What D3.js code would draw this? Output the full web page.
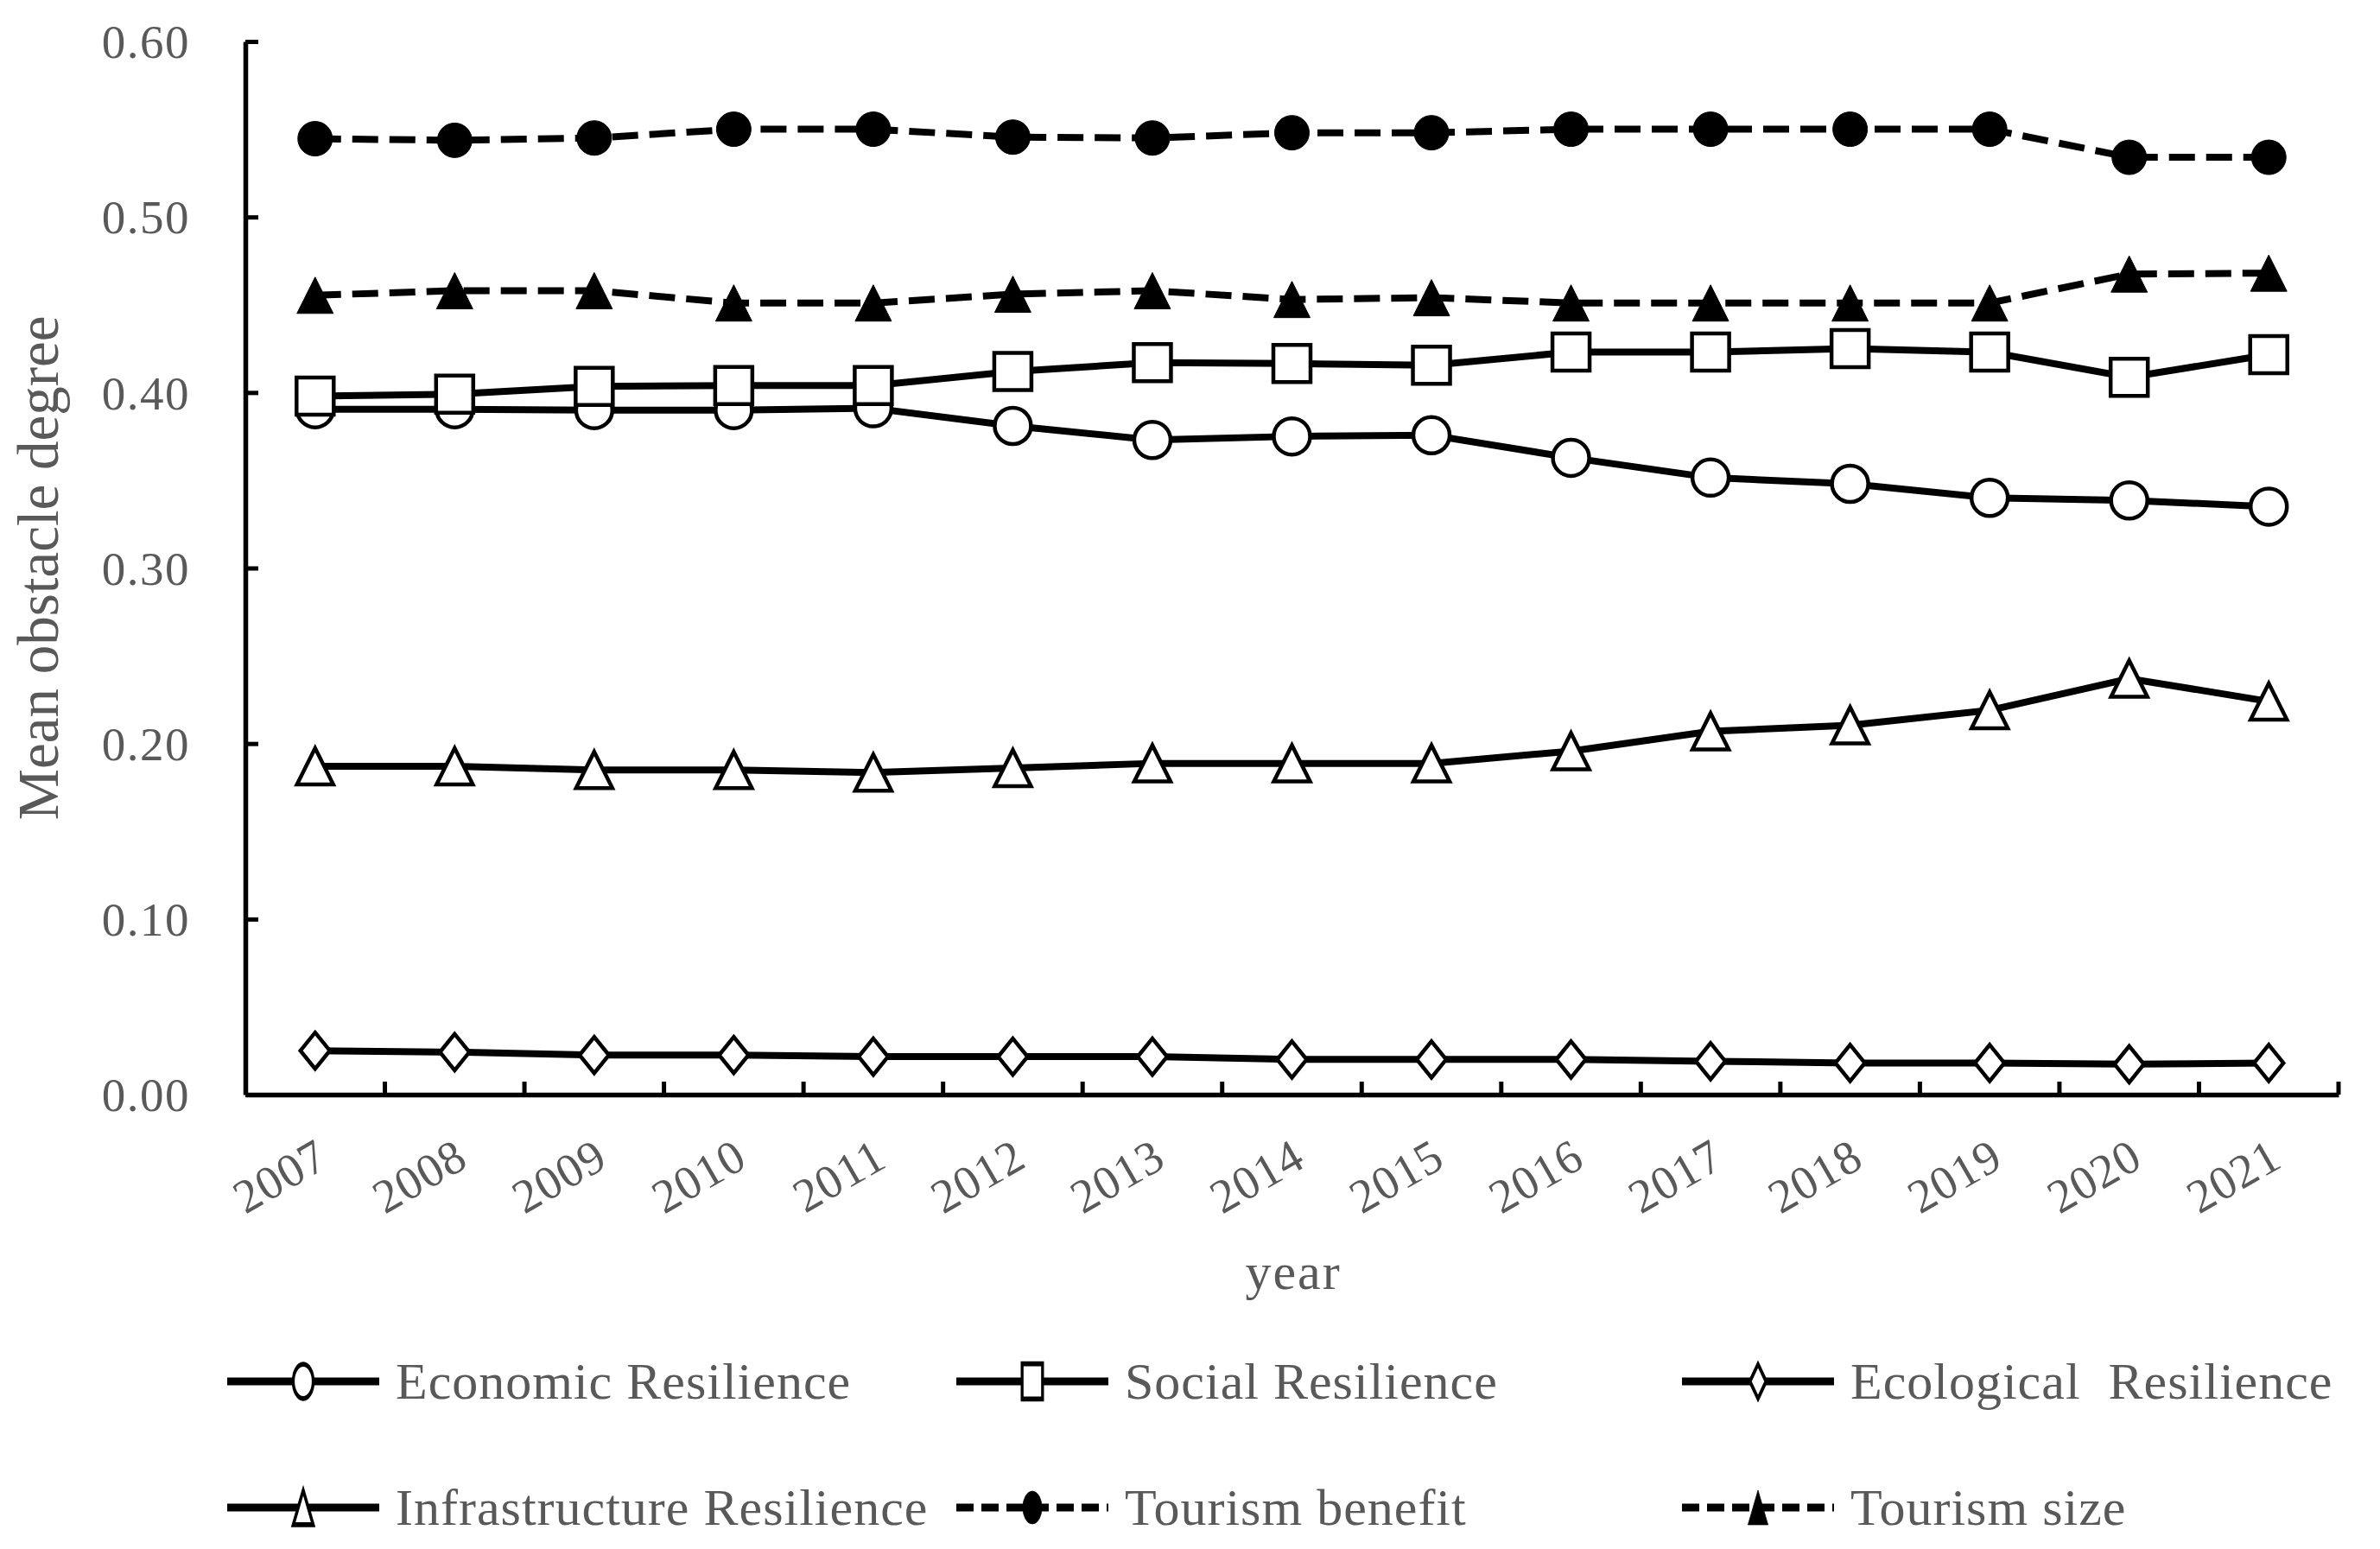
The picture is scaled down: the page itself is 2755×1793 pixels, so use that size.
<!DOCTYPE html>
<html>
<head>
<meta charset="utf-8">
<script src="https://cdn.jsdelivr.net/npm/d3@7.9.0/dist/d3.min.js"></script>
<style>
  body { margin: 0; background: #fff; }
  text { font-family: 'Liberation Serif', 'Times New Roman', serif; fill: #595959; }
</style>
</head>
<body>
<div id="chart"></div>
<script>
const years = ['2007', '2008', '2009', '2010', '2011', '2012', '2013', '2014',
  '2015', '2016', '2017', '2018', '2019', '2020', '2021'];

const economic = [0.3905, 0.3905, 0.390, 0.390, 0.391, 0.381, 0.373, 0.375,
  0.3757, 0.3628, 0.3515, 0.348, 0.340, 0.3385, 0.335];
const social = [0.398, 0.399, 0.4035, 0.404, 0.404, 0.412, 0.417, 0.4165,
  0.4156, 0.423, 0.423, 0.425, 0.423, 0.4087, 0.4216];
const ecological = [0.025, 0.0242, 0.0225, 0.0225, 0.0216, 0.0216, 0.0216, 0.020,
  0.020, 0.020, 0.019, 0.018, 0.018, 0.0173, 0.018];
const infrastructure = [0.187, 0.187, 0.185, 0.185, 0.1835, 0.186, 0.1887, 0.1887,
  0.1887, 0.1957, 0.207, 0.2104, 0.219, 0.237, 0.224];
const tourismBenefit = [0.5446, 0.5437, 0.545, 0.550, 0.550, 0.5455, 0.545, 0.548,
  0.548, 0.550, 0.550, 0.550, 0.550, 0.534, 0.534];
const tourismSize = [0.4554, 0.458, 0.458, 0.451, 0.451, 0.456, 0.458, 0.453,
  0.454, 0.451, 0.451, 0.451, 0.451, 0.4675, 0.468];

const yTicks = [0, 0.1, 0.2, 0.3, 0.4, 0.5, 0.6];

const series = [
  { name: 'Economic Resilience', values: economic, shape: 'circle', fill: '#fff', dashed: false },
  { name: 'Social Resilience', values: social, shape: 'square', fill: '#fff', dashed: false },
  { name: 'Ecological  Resilience', values: ecological, shape: 'diamond', fill: '#fff', dashed: false },
  { name: 'Infrastructure Resilience', values: infrastructure, shape: 'triangle', fill: '#fff', dashed: false },
  { name: 'Tourism benefit', values: tourismBenefit, shape: 'dot', fill: '#000', dashed: true },
  { name: 'Tourism size', values: tourismSize, shape: 'filledTriangle', fill: '#000', dashed: true },
];

const width = 2755;
const height = 1793;
const plot = { left: 284, right: 2707, top: 48, bottom: 1267 };

const svg = d3.select('#chart')
  .append('svg')
  .attr('width', width)
  .attr('height', height);

const x = d3.scaleBand()
  .domain(years)
  .range([plot.left, plot.right])
  .padding(0);

const y = d3.scaleLinear()
  .domain([0, 0.6])
  .range([plot.bottom, plot.top]);

const cx = (d) => x(d) + x.bandwidth() / 2;

// marker outlines, scaled by k (1 = plot size)
function markerPath(shape, k = 1) {
  const p = d3.path();
  if (shape === 'circle') {
    p.arc(0, 0, 21 * k, 0, 2 * Math.PI);
  } else if (shape === 'dot') {
    p.arc(0, 0, 20 * k, 0, 2 * Math.PI);
  } else if (shape === 'square') {
    const s = 21.5 * k;
    p.rect(-s, -s, 2 * s, 2 * s);
  } else if (shape === 'diamond') {
    const w = 17 * k, h = 21 * k;
    p.moveTo(0, -h); p.lineTo(w, 0); p.lineTo(0, h); p.lineTo(-w, 0); p.closePath();
  } else {
    const w = 21 * k, h = 21 * k;
    p.moveTo(0, -h); p.lineTo(w, h); p.lineTo(-w, h); p.closePath();
  }
  return p.toString();
}

// y axis, ticks pointing inward
svg.append('g')
  .attr('transform', `translate(${plot.left},0)`)
  .call(d3.axisLeft(y).tickValues(yTicks).tickFormat(d3.format('.2f'))
    .tickSizeInner(-15).tickSizeOuter(0).tickPadding(64))
  .call((g) => {
    g.select('.domain').attr('stroke', '#000').attr('stroke-width', 5.5);
    g.selectAll('.tick line').attr('stroke', '#000').attr('stroke-width', 5);
    g.selectAll('.tick text')
      .attr('fill', '#595959')
      .style('font-family', "'Liberation Serif', 'Times New Roman', serif")
      .style('font-size', '55px')
      .style('letter-spacing', '1.5px')
      .attr('dy', '0.34em');
  });

// x axis line
svg.append('g')
  .attr('transform', `translate(0,${plot.bottom})`)
  .call(d3.axisBottom(x).tickSize(0).tickFormat(''))
  .call((g) => {
    g.select('.domain').attr('stroke', '#000').attr('stroke-width', 5.5);
    g.selectAll('.tick').remove();
  });

// x ticks at band edges
const edges = years.slice(1).map((d) => x(d)).concat([plot.right]);
svg.append('g')
  .selectAll('line')
  .data(edges)
  .join('line')
  .attr('x1', (d) => d)
  .attr('x2', (d) => d)
  .attr('y1', plot.bottom)
  .attr('y2', plot.bottom - 15)
  .attr('stroke', '#000')
  .attr('stroke-width', 5);

// x labels, rotated
svg.append('g')
  .selectAll('text')
  .data(years)
  .join('text')
  .attr('transform', (d) => `translate(${cx(d) + 18},${plot.bottom + 82}) rotate(-30)`)
  .attr('text-anchor', 'end')
  .style('font-size', '55px')
  .style('letter-spacing', '1px')
  .text((d) => d);

// axis titles
svg.append('text')
  .attr('x', 1497)
  .attr('y', 1492)
  .attr('text-anchor', 'middle')
  .style('font-size', '60px')
  .style('letter-spacing', '2px')
  .text('year');

svg.append('text')
  .attr('transform', `translate(67,${(plot.top + plot.bottom) / 2}) rotate(-90)`)
  .attr('text-anchor', 'middle')
  .style('font-size', '67px')
  .text('Mean obstacle degree');

// series
const line = d3.line()
  .x((d, i) => cx(years[i]))
  .y((d) => y(d));

series.forEach((s) => {
  const g = svg.append('g');
  g.append('path')
    .datum(s.values)
    .attr('d', line)
    .attr('fill', 'none')
    .attr('stroke', '#000')
    .attr('stroke-width', 8)
    .attr('stroke-dasharray', s.dashed ? '30,13' : null);
  g.selectAll('path.marker')
    .data(s.values)
    .join('path')
    .attr('class', 'marker')
    .attr('transform', (d, i) => `translate(${cx(years[i])},${y(d)})`)
    .attr('d', markerPath(s.shape))
    .attr('fill', s.fill)
    .attr('stroke', '#000')
    .attr('stroke-width', s.fill === '#000' ? 1 : 4.5);
});

// legend
const legendCols = [263, 1107, 1947];
const legendRows = [1599, 1745];
const lineLen = 176;

const legend = svg.append('g')
  .selectAll('g')
  .data(series)
  .join('g')
  .attr('transform', (d, i) => `translate(${legendCols[i % 3]},${legendRows[Math.floor(i / 3)]})`);

legend.append('line')
  .attr('x1', 0)
  .attr('x2', lineLen)
  .attr('stroke', '#000')
  .attr('stroke-width', 9)
  .attr('stroke-dasharray', (d) => (d.dashed ? '20,9' : null));

legend.append('path')
  .attr('transform', `translate(${lineLen / 2},0) scale(0.55,0.95)`)
  .attr('d', (d) => markerPath(d.shape))
  .attr('fill', (d) => d.fill)
  .attr('stroke', '#000')
  .attr('stroke-width', (d) => (d.fill === '#000' ? 1 : 6));

legend.append('text')
  .attr('x', 195)
  .attr('y', 20)
  .attr('xml:space', 'preserve')
  .style('white-space', 'pre')
  .style('font-size', '60px')
  .style('letter-spacing', '1px')
  .text((d) => d.name);
</script>
</body>
</html>
